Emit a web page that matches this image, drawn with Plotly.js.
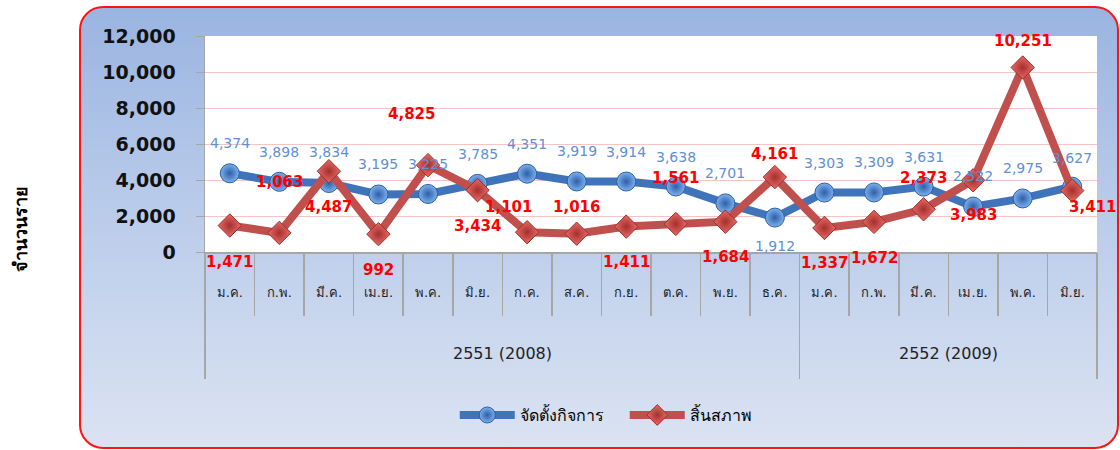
<!DOCTYPE html>
<html>
<head>
<meta charset="utf-8">
<script src="https://cdn.plot.ly/plotly-3.0.1.min.js"></script>
<style>
  html, body { margin: 0; padding: 0; width: 1120px; height: 450px; overflow: hidden; background: #ffffff; }
  #frame {
    position: absolute; left: 79px; top: 6px; width: 1040px; height: 443px;
    box-sizing: border-box; border: 2px solid #ff1414; border-radius: 24px;
    background: linear-gradient(to bottom, #9ab4e1 0%, #b9cbea 45%, #dbe3f2 100%);
  }
  #chart { position: absolute; left: 0; top: 0; width: 1120px; height: 450px; }
</style>
</head>
<body>
<div id="frame"></div>
<div id="chart"></div>
<script>
// ---- data ----
const months = ["ม.ค.", "ก.พ.", "มี.ค.", "เม.ย.", "พ.ค.", "มิ.ย.", "ก.ค.", "ส.ค.", "ก.ย.", "ต.ค.", "พ.ย.", "ธ.ค.",
                "ม.ค.", "ก.พ.", "มี.ค.", "เม.ย.", "พ.ค.", "มิ.ย."];
const years = ["2551 (2008)", "2551 (2008)", "2551 (2008)", "2551 (2008)", "2551 (2008)", "2551 (2008)",
               "2551 (2008)", "2551 (2008)", "2551 (2008)", "2551 (2008)", "2551 (2008)", "2551 (2008)",
               "2552 (2009)", "2552 (2009)", "2552 (2009)", "2552 (2009)", "2552 (2009)", "2552 (2009)"];
const established = [4374, 3898, 3834, 3195, 3225, 3785, 4351, 3919, 3914, 3638, 2701, 1912,
                     3303, 3309, 3631, 2522, 2975, 3627];
const dissolved = [1471, 1063, 4487, 992, 4825, 3434, 1101, 1016, 1411, 1561, 1684, 4161,
                   1337, 1672, 2373, 3983, 10251, 3411];
const seriesNames = ["จัดตั้งกิจการ", "สิ้นสภาพ"];
const yTitle = "จำนวนราย";

// ---- label placement (pixels) ----
const estLabelShiftY = [30, 30, 31, 30, 30, 30, 30, 30, 30, 30, 30, -28, 30, 30, 30, 31, 30, 29];
const disLabelShiftY = [-36, 51, -36, -36, 51, -36, 25, 27, -35, 46, -35, 23, -35, -36, 31, -35, 26, -16];
const disLabelShiftX = [0, 0, 0, 0, -17, 0, -19, 0, 0, 0, 0, 0, 0, 0, 0, 0, 0, 20];

const FONT = "DejaVu Sans, Tahoma, sans-serif";
const idx = months.map((_, i) => i);
const n = months.length;
const boundaries = idx.map(i => i - 0.5).concat([n - 0.5]);
const groupBounds = [-0.5];
const groups = [];
years.forEach((y, i) => {
  if (i > 0 && y !== years[i - 1]) groupBounds.push(i - 0.5);
  if (!groups.length || groups[groups.length - 1].name !== y) groups.push({ name: y, first: i, last: i });
  else groups[groups.length - 1].last = i;
});
groupBounds.push(n - 0.5);

const fmt = v => v.toLocaleString("en-US");

const traces = [
  {
    x: idx, y: established, name: seriesNames[0], type: "scatter", mode: "lines+markers",
    line: { color: "#3f74bb", width: 8 },
    marker: { symbol: "circle", size: 19, color: "#7db0ee",
              gradient: { type: "radial", color: "#2c5fa6" },
              line: { color: "#2f5f9f", width: 1 } },
    hoverinfo: "skip"
  },
  {
    x: idx, y: dissolved, name: seriesNames[1], type: "scatter", mode: "lines+markers",
    line: { color: "#c0504d", width: 8 },
    marker: { symbol: "diamond", size: 18, color: "#ea6a66",
              gradient: { type: "radial", color: "#a3302d" },
              line: { color: "#9b2f2c", width: 1 } },
    hoverinfo: "skip"
  },
  // empty traces so the divider axes are drawn
  { x: [], y: [], xaxis: "x2", yaxis: "y", type: "scatter", mode: "lines", showlegend: false, hoverinfo: "skip" },
  { x: [], y: [], xaxis: "x3", yaxis: "y", type: "scatter", mode: "lines", showlegend: false, hoverinfo: "skip" }
];

const annotations = [];
established.forEach((v, i) => annotations.push({
  x: i, y: v, xref: "x", yref: "y", text: fmt(v), showarrow: false,
  yshift: estLabelShiftY[i], font: { family: FONT, size: 14, color: "#5f8fd6" }
}));
dissolved.forEach((v, i) => annotations.push({
  x: i, y: v, xref: "x", yref: "y", text: fmt(v), showarrow: false,
  yshift: disLabelShiftY[i], xshift: disLabelShiftX[i],
  font: { family: FONT, size: 15, color: "#ff0000", weight: "bold" }
}));
groups.forEach(g => annotations.push({
  x: (g.first + g.last) / 2, y: -0.4676, xref: "x", yref: "paper", yanchor: "middle",
  text: g.name, showarrow: false, font: { family: FONT, size: 16, color: "#222222" }
}));
annotations.push({
  x: -0.2063, y: 0.108, xref: "paper", yref: "paper", xanchor: "center", yanchor: "middle",
  text: yTitle, textangle: -90, showarrow: false,
  font: { family: FONT, size: 18, color: "#000000", weight: "bold" }
});

const axisGray = "#a6a6a6";
const divAxis = (vals, len) => ({
  overlaying: "x", anchor: "y", side: "bottom", range: [-0.5, n - 0.5],
  tickmode: "array", tickvals: vals, ticktext: vals.map(() => ""), ticks: "outside", ticklen: len, tickwidth: 1.5,
  tickcolor: axisGray, showticklabels: false, showgrid: false, zeroline: false, showline: false, fixedrange: true
});

const layout = {
  width: 1120, height: 450,
  margin: { l: 205, r: 23, t: 36, b: 198, pad: 0 },
  paper_bgcolor: "rgba(0,0,0,0)", plot_bgcolor: "#ffffff",
  font: { family: FONT },
  showlegend: true,
  legend: { orientation: "h", x: 0.28, xanchor: "left", y: -0.755, yanchor: "middle",
            entrywidth: 100, entrywidthmode: "pixels",
            font: { family: FONT, size: 16, color: "#000" }, itemwidth: 55, bgcolor: "rgba(0,0,0,0)" },
  xaxis: {
    range: [-0.5, n - 0.5], tickmode: "array", tickvals: idx, ticktext: months,
    ticks: "", showline: true, linecolor: axisGray, linewidth: 1.5,
    showgrid: false, zeroline: false, ticklabelstandoff: 28,
    tickfont: { family: FONT, size: 13, color: "#222" }, fixedrange: true
  },
  xaxis2: divAxis(boundaries, 63),
  xaxis3: divAxis(groupBounds, 126),
  yaxis: {
    range: [0, 12000], dtick: 2000, tickformat: ",d",
    showline: true, linecolor: axisGray, linewidth: 1.5,
    ticks: "outside", ticklen: 8, tickcolor: axisGray, ticklabelstandoff: 16,
    gridcolor: "#f7c4c4", gridwidth: 1, zeroline: false,
    tickfont: { family: FONT, size: 19, color: "#111", weight: "bold" }, fixedrange: true
  },
  annotations: annotations
};

Plotly.newPlot("chart", traces, layout, { staticPlot: true, displayModeBar: false });
</script>
</body>
</html>
